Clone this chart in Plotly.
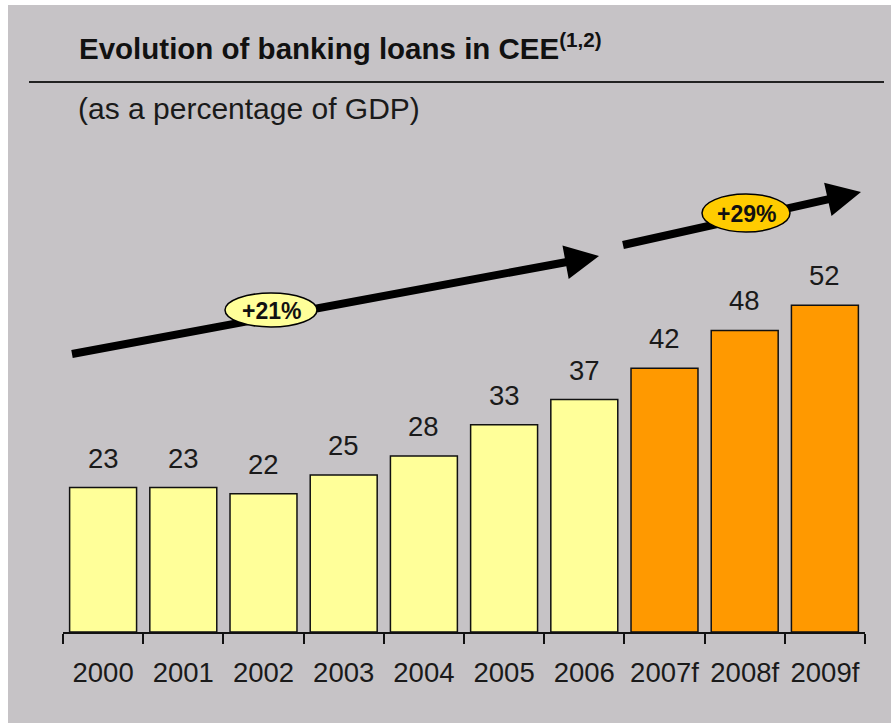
import plotly.graph_objects as go

# ---- data ----
years = ["2000", "2001", "2002", "2003", "2004", "2005", "2006", "2007f", "2008f", "2009f"]
loans_pct_gdp = [23, 23, 22, 25, 28, 33, 37, 42, 48, 52]
is_forecast = [False, False, False, False, False, False, False, True, True, True]
growth_labels = ["+21%", "+29%"]

title_text = "Evolution of banking loans in CEE"
title_note = "(1,2)"
subtitle_text = "(as a percentage of GDP)"

# ---- style ----
BG = "#C6C3C6"
HIST = "#FFFF99"
FCST = "#FF9900"
FONT = "Liberation Sans, Arial, sans-serif"
W_PX, H_PX = 891, 723
L, R, T, B = 63, 865, 120, 632  # plot area in pixels


def px(x):
    return (x - L) / (R - L)


def py(y):
    return (B - y) / (B - T)


def arrow_path(x0, y0, x1, y1, half=4.0, head_len=34.0, head_half=17.0):
    dx, dy = x1 - x0, y1 - y0
    n = (dx * dx + dy * dy) ** 0.5
    ux, uy = dx / n, dy / n
    nx, ny = -uy, ux
    bx, by = x1 - ux * head_len, y1 - uy * head_len
    pts = [
        (x0 + nx * half, y0 + ny * half),
        (bx + nx * half, by + ny * half),
        (bx + nx * head_half, by + ny * head_half),
        (x1, y1),
        (bx - nx * head_half, by - ny * head_half),
        (bx - nx * half, by - ny * half),
        (x0 - nx * half, y0 - ny * half),
    ]
    return "M " + " L ".join(f"{px(a):.5f},{py(b):.5f}" for a, b in pts) + " Z"


colors = [FCST if f else HIST for f in is_forecast]

fig = go.Figure()
fig.add_trace(go.Bar(
    x=years, y=loans_pct_gdp,
    marker=dict(color=colors, line=dict(color="#111111", width=1.5)),
    hoverinfo="x+y",
))

annotations = []
for i, v in enumerate(loans_pct_gdp):
    annotations.append(dict(
        x=i, y=v, xref="x", yref="y", text=str(v), showarrow=False,
        xanchor="center", yanchor="bottom", yshift=12,
        font=dict(family=FONT, size=27.5, color="#1a1a1a"),
    ))

# title, subtitle
annotations.append(dict(
    x=px(77), y=py(46), xref="paper", yref="paper", xanchor="left", yanchor="middle",
    text=f"<b>{title_text}<sup>{title_note}</sup></b>", showarrow=False,
    font=dict(family=FONT, size=29.5, color="#111111"),
))
annotations.append(dict(
    x=px(76), y=py(108), xref="paper", yref="paper", xanchor="left", yanchor="middle",
    text=subtitle_text, showarrow=False,
    font=dict(family=FONT, size=30, color="#1a1a1a"),
))

shapes = [
    # white borders (top, left)
    dict(type="rect", xref="paper", yref="paper", x0=px(0), x1=px(W_PX), y0=py(0), y1=py(5),
         fillcolor="white", line=dict(width=0), layer="above"),
    dict(type="rect", xref="paper", yref="paper", x0=px(0), x1=px(8), y0=py(0), y1=py(H_PX),
         fillcolor="white", line=dict(width=0), layer="above"),
    # rule under title
    dict(type="line", xref="paper", yref="paper", x0=px(29), x1=px(884), y0=py(82), y1=py(82),
         line=dict(color="#222222", width=2)),
    # arrows
    dict(type="path", xref="paper", yref="paper", path=arrow_path(72, 354, 599, 256),
         fillcolor="black", line=dict(width=0)),
    dict(type="path", xref="paper", yref="paper", path=arrow_path(623, 245, 861, 192),
         fillcolor="black", line=dict(width=0)),
    # growth badges
    dict(type="circle", xref="paper", yref="paper", x0=px(225), x1=px(317), y0=py(293), y1=py(327),
         fillcolor=HIST, line=dict(color="black", width=1.5)),
    dict(type="circle", xref="paper", yref="paper", x0=px(702), x1=px(790), y0=py(194), y1=py(232),
         fillcolor="#FFCC00", line=dict(color="black", width=1.5)),
]

annotations.append(dict(x=px(271), y=py(311), xref="paper", yref="paper", xanchor="center", yanchor="middle",
                        text=f"<b>{growth_labels[0]}</b>",
                        showarrow=False, font=dict(family=FONT, size=23, color="#111111")))
annotations.append(dict(x=px(746), y=py(214), xref="paper", yref="paper", xanchor="center", yanchor="middle",
                        text=f"<b>{growth_labels[1]}</b>",
                        showarrow=False, font=dict(family=FONT, size=23, color="#111111")))

fig.update_layout(
    width=W_PX, height=H_PX,
    margin=dict(l=L, r=W_PX - R, t=T, b=H_PX - B, pad=0),
    paper_bgcolor=BG, plot_bgcolor=BG,
    showlegend=False, bargap=0.165,
    annotations=annotations, shapes=shapes,
    xaxis=dict(
        type="category", range=[-0.5, len(years) - 0.5], autorange=False,
        showline=True, linecolor="#111111", linewidth=1.5,
        ticks="outside", tickson="boundaries", ticklen=10, tickwidth=1.5, tickcolor="#111111",
        tickfont=dict(family=FONT, size=27.5, color="#1a1a1a"), showgrid=False, zeroline=False,
        ticklabelstandoff=15, tickangle=0,
    ),
    yaxis=dict(range=[0, 81.5], autorange=False, visible=False, showgrid=False, zeroline=False),
)

fig.write_html("out.html")
